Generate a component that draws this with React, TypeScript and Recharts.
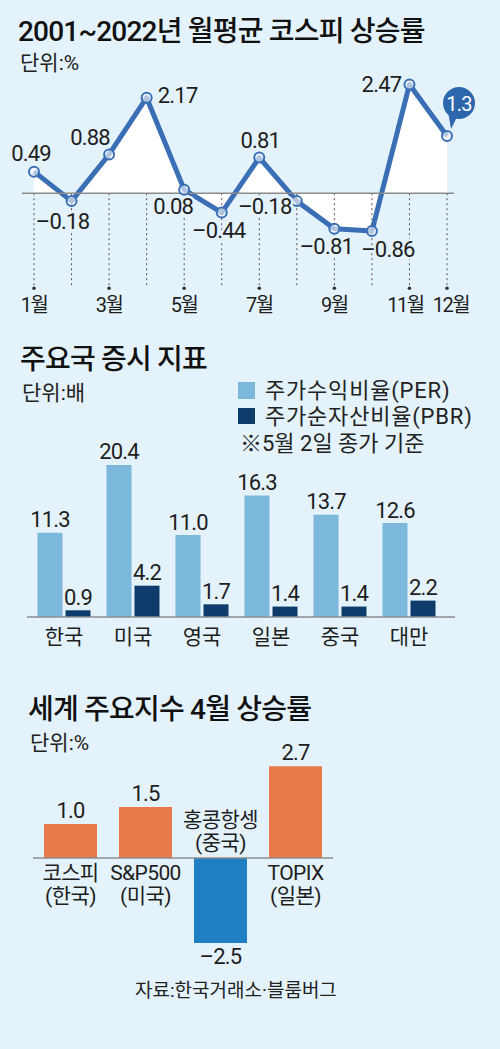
import React from "react";
import {
  ComposedChart,
  Area,
  XAxis,
  YAxis,
  ReferenceLine,
  ReferenceDot,
  LabelList,
  BarChart,
  Bar,
  Cell,
} from "recharts";

// 1) 2001~2022 monthly average KOSPI return
const MONTHS = ["1월", "2월", "3월", "4월", "5월", "6월", "7월", "8월", "9월", "10월", "11월", "12월"];
const MONTH_TICKS = ["1월", "", "3월", "", "5월", "", "7월", "", "9월", "", "11월", "12월"];
const KOSPI_AVG = [0.49, -0.18, 0.88, 2.17, 0.08, -0.44, 0.81, -0.18, -0.81, -0.86, 2.47, 1.3];

// 2) PER / PBR by country
const COUNTRIES = ["한국", "미국", "영국", "일본", "중국", "대만"];
const PER = [11.3, 20.4, 11.0, 16.3, 13.7, 12.6];
const PBR = [0.9, 4.2, 1.7, 1.4, 1.4, 2.2];

// 3) April return of world indices
const INDEX_NAMES = ["코스피", "S&P500", "홍콩항셍", "TOPIX"];
const INDEX_REGIONS = ["한국", "미국", "중국", "일본"];
const APRIL_RETURNS = [1.0, 1.5, -2.5, 2.7];

// label placement for the line chart (dx, dy from the point)
const LINE_LABEL_OFFSETS = [
  [-3, -18], [-9, 20], [-19, -17], [31, -2], [-11, 17], [-3, 18],
  [1, -17], [-32, 5], [-8, 18], [16, 18], [-28, 0], [0, 0],
];

const BG = "#e3f2fb";
const FONT = "Roboto, 'Noto Sans CJK KR', sans-serif";
const KR = "'Noto Sans CJK KR', sans-serif";
const LINE_BLUE = "#3a6fb6";
const TEXT = "#1e1e1e";

const lineData = MONTHS.map((m, i) => ({ month: m, value: KOSPI_AVG[i] }));
const ratioData = COUNTRIES.map((c, i) => ({ country: c, per: PER[i], pbr: PBR[i] }));
const indexData = INDEX_NAMES.map((n, i) => ({ name: n, region: INDEX_REGIONS[i], value: APRIL_RETURNS[i] }));

const fmt = (v: number | string) => String(v).replace("-", "–");

function LineValueLabel(props: any) {
  const { x, y, value, index } = props;
  if (index === KOSPI_AVG.length - 1) {
    const cx = x + 12;
    const cy = y - 33;
    return (
      <g>
        <path d={`M${cx - 11},${cy + 8} L${x + 4},${y - 7} L${cx - 2},${cy + 14} Z`} fill="#2c67ae" />
        <circle cx={cx} cy={cy} r={16} fill="#2c67ae" />
        <text x={cx} y={cy + 1} textAnchor="middle" dominantBaseline="central" fill="#fff"
          fontSize={20} fontFamily={FONT} letterSpacing={-0.8}>
          {fmt(value)}
        </text>
      </g>
    );
  }
  const [dx, dy] = LINE_LABEL_OFFSETS[index];
  return (
    <text x={x + dx} y={y + dy} textAnchor="middle" dominantBaseline="central" fill={TEXT}
      fontSize={22} fontFamily={FONT} letterSpacing={-0.8}
      stroke={BG} strokeWidth={5} paintOrder="stroke">
      {fmt(value)}
    </text>
  );
}

function MonthTick(props: any) {
  const { x, y, index } = props;
  const nudge = index === 10 ? -4 : index === 11 ? 4 : 0;
  return (
    <text x={x + nudge} y={y + 13} textAnchor="middle" dominantBaseline="central" fill={TEXT}
      fontSize={20} fontFamily={FONT} letterSpacing={-1.5}>
      {MONTH_TICKS[index]}
    </text>
  );
}

function CountryTick(props: any) {
  const { x, y, payload } = props;
  return (
    <text x={x} y={y + 16} textAnchor="middle" dominantBaseline="central" fill={TEXT}
      fontSize={21} fontFamily={KR}>
      {payload.value}
    </text>
  );
}

function BarValueLabel(props: any) {
  const { x, y, width, value } = props;
  return (
    <text x={x + width / 2} y={y - 13} textAnchor="middle" dominantBaseline="central" fill={TEXT}
      fontSize={22} fontFamily={FONT} letterSpacing={-0.8}>
      {Number(value).toFixed(1)}
    </text>
  );
}

function IndexLabel(props: any) {
  const { x, y, width, height, value, index } = props;
  const top = Math.min(y, y + height);
  const bottom = Math.max(y, y + height);
  const cx = x + width / 2;
  const pos = value >= 0;
  const zero = pos ? bottom : top;
  const nameY = pos ? zero + 15 : zero - 38;
  return (
    <g fontFamily={FONT} fill={TEXT}>
      <text x={cx} y={pos ? top - 14 : bottom + 13} textAnchor="middle" dominantBaseline="central"
        fontSize={22} letterSpacing={-0.8}>
        {fmt(Number(value).toFixed(1))}
      </text>
      <text x={cx} y={nameY} textAnchor="middle" dominantBaseline="central" fontSize={21} letterSpacing={-0.6}>
        {INDEX_NAMES[index]}
      </text>
      <text x={cx} y={nameY + 23} textAnchor="middle" dominantBaseline="central" fontSize={21} letterSpacing={-0.6}>
        ({INDEX_REGIONS[index]})
      </text>
    </g>
  );
}

const title: React.CSSProperties = {
  position: "absolute",
  fontFamily: FONT,
  fontSize: 28,
  fontWeight: 500,
  lineHeight: "28px",
  color: "#111",
  letterSpacing: -0.8,
  whiteSpace: "nowrap",
};
const sub: React.CSSProperties = {
  position: "absolute",
  fontFamily: FONT,
  fontSize: 21,
  lineHeight: "21px",
  color: "#222",
  whiteSpace: "nowrap",
};
const legendText: React.CSSProperties = { ...sub, fontSize: 22, lineHeight: "22px", letterSpacing: 0.8 };

export default function App() {
  return (
    <div style={{ position: "absolute", left: 0, top: 0, width: 500, height: 1049, background: BG, overflow: "hidden" }}>
      <div style={{ ...title, left: 18, top: 18 }}>2001~2022년 월평균 코스피 상승률</div>
      <div style={{ ...sub, left: 20, top: 53 }}>단위:%</div>

      <div style={{ position: "absolute", left: 0, top: 0 }}>
        <ComposedChart width={500} height={320} data={lineData} margin={{ top: 70, right: 46, bottom: 0, left: 22 }}>
          <XAxis dataKey="month" scale="point" padding={{ left: 12, right: 7 }} axisLine={false} height={30}
            tickLine={false} tickSize={0} tick={<MonthTick />} interval={0} />
          <YAxis type="number" domain={[-2.2, 2.8]} allowDataOverflow hide />
          {MONTHS.map((m) => (
            <ReferenceLine key={m} segment={[{ x: m, y: 0 }, { x: m, y: -2.16 }]} stroke="#555"
              strokeWidth={1} strokeDasharray="2 3" />
          ))}
          {MONTHS.filter((m, i) => MONTH_TICKS[i] !== "").map((m) => (
            <ReferenceDot key={m} x={m} y={-2.16} r={1.8} fill="#333" stroke="none" />
          ))}
          <Area type="linear" dataKey="value" baseValue={0} fill="#ffffff" fillOpacity={1}
            stroke="none" isAnimationActive={false} activeDot={false} />
          <ReferenceLine y={0} stroke="#8c8c8c" strokeWidth={1.5} />
          <Area type="linear" dataKey="value" baseValue={0} fill="none" stroke={LINE_BLUE} strokeWidth={5}
            strokeLinejoin="round" isAnimationActive={false} activeDot={false}
            dot={{ r: 5, fill: "#fff", stroke: LINE_BLUE, strokeWidth: 2 }}>
            <LabelList dataKey="value" content={<LineValueLabel />} />
          </Area>
        </ComposedChart>
      </div>

      <div style={{ ...title, left: 20, top: 346 }}>주요국 증시 지표</div>
      <div style={{ ...sub, left: 22, top: 383 }}>단위:배</div>
      <div style={{ position: "absolute", left: 238, top: 382, width: 17, height: 17, background: "#7bb8dc" }} />
      <div style={{ ...legendText, left: 265, top: 380 }}>주가수익비율(PER)</div>
      <div style={{ position: "absolute", left: 238, top: 408, width: 17, height: 16, background: "#0f3d6b" }} />
      <div style={{ ...legendText, left: 265, top: 406 }}>주가순자산비율(PBR)</div>
      <div style={{ ...legendText, letterSpacing: 0, left: 240, top: 433 }}>※5월 2일 종가 기준</div>

      <div style={{ position: "absolute", left: 0, top: 430 }}>
        <BarChart width={500} height={220} data={ratioData} margin={{ top: 23, right: 45, bottom: 3, left: 27 }}
          barGap={3}>
          <XAxis dataKey="country" padding={{ left: 2.5, right: 11.5 }} axisLine={{ stroke: "#8c8c8c", strokeWidth: 1.5 }}
            height={30} tickLine={false} tickSize={0} tick={<CountryTick />} interval={0} />
          <YAxis type="number" domain={[0, 22]} allowDataOverflow hide />
          <Bar dataKey="per" fill="#7bb8dc" barSize={25} isAnimationActive={false}>
            <LabelList dataKey="per" content={<BarValueLabel />} />
          </Bar>
          <Bar dataKey="pbr" fill="#0f3d6b" barSize={25} isAnimationActive={false}>
            <LabelList dataKey="pbr" content={<BarValueLabel />} />
          </Bar>
        </BarChart>
      </div>

      <div style={{ ...title, left: 28, top: 696 }}>세계 주요지수 4월 상승률</div>
      <div style={{ ...sub, left: 30, top: 733 }}>단위:%</div>

      <div style={{ position: "absolute", left: 0, top: 740 }}>
        <BarChart width={500} height={230} data={indexData} margin={{ top: 16, right: 167, bottom: 10, left: 33 }}>
          <XAxis dataKey="name" hide />
          <YAxis type="number" domain={[-3, 3]} allowDataOverflow hide />
          <ReferenceLine y={0} stroke="#8c8c8c" strokeWidth={1.5} />
          <Bar dataKey="value" barSize={53} isAnimationActive={false}>
            {indexData.map((d) => (
              <Cell key={d.name} fill={d.value >= 0 ? "#e7794b" : "#1e7fc3"} />
            ))}
            <LabelList dataKey="value" content={<IndexLabel />} />
          </Bar>
        </BarChart>
      </div>

      <div style={{ ...sub, fontSize: 19, lineHeight: "19px", left: 135, top: 981 }}>자료:한국거래소·블룸버그</div>
    </div>
  );
}
